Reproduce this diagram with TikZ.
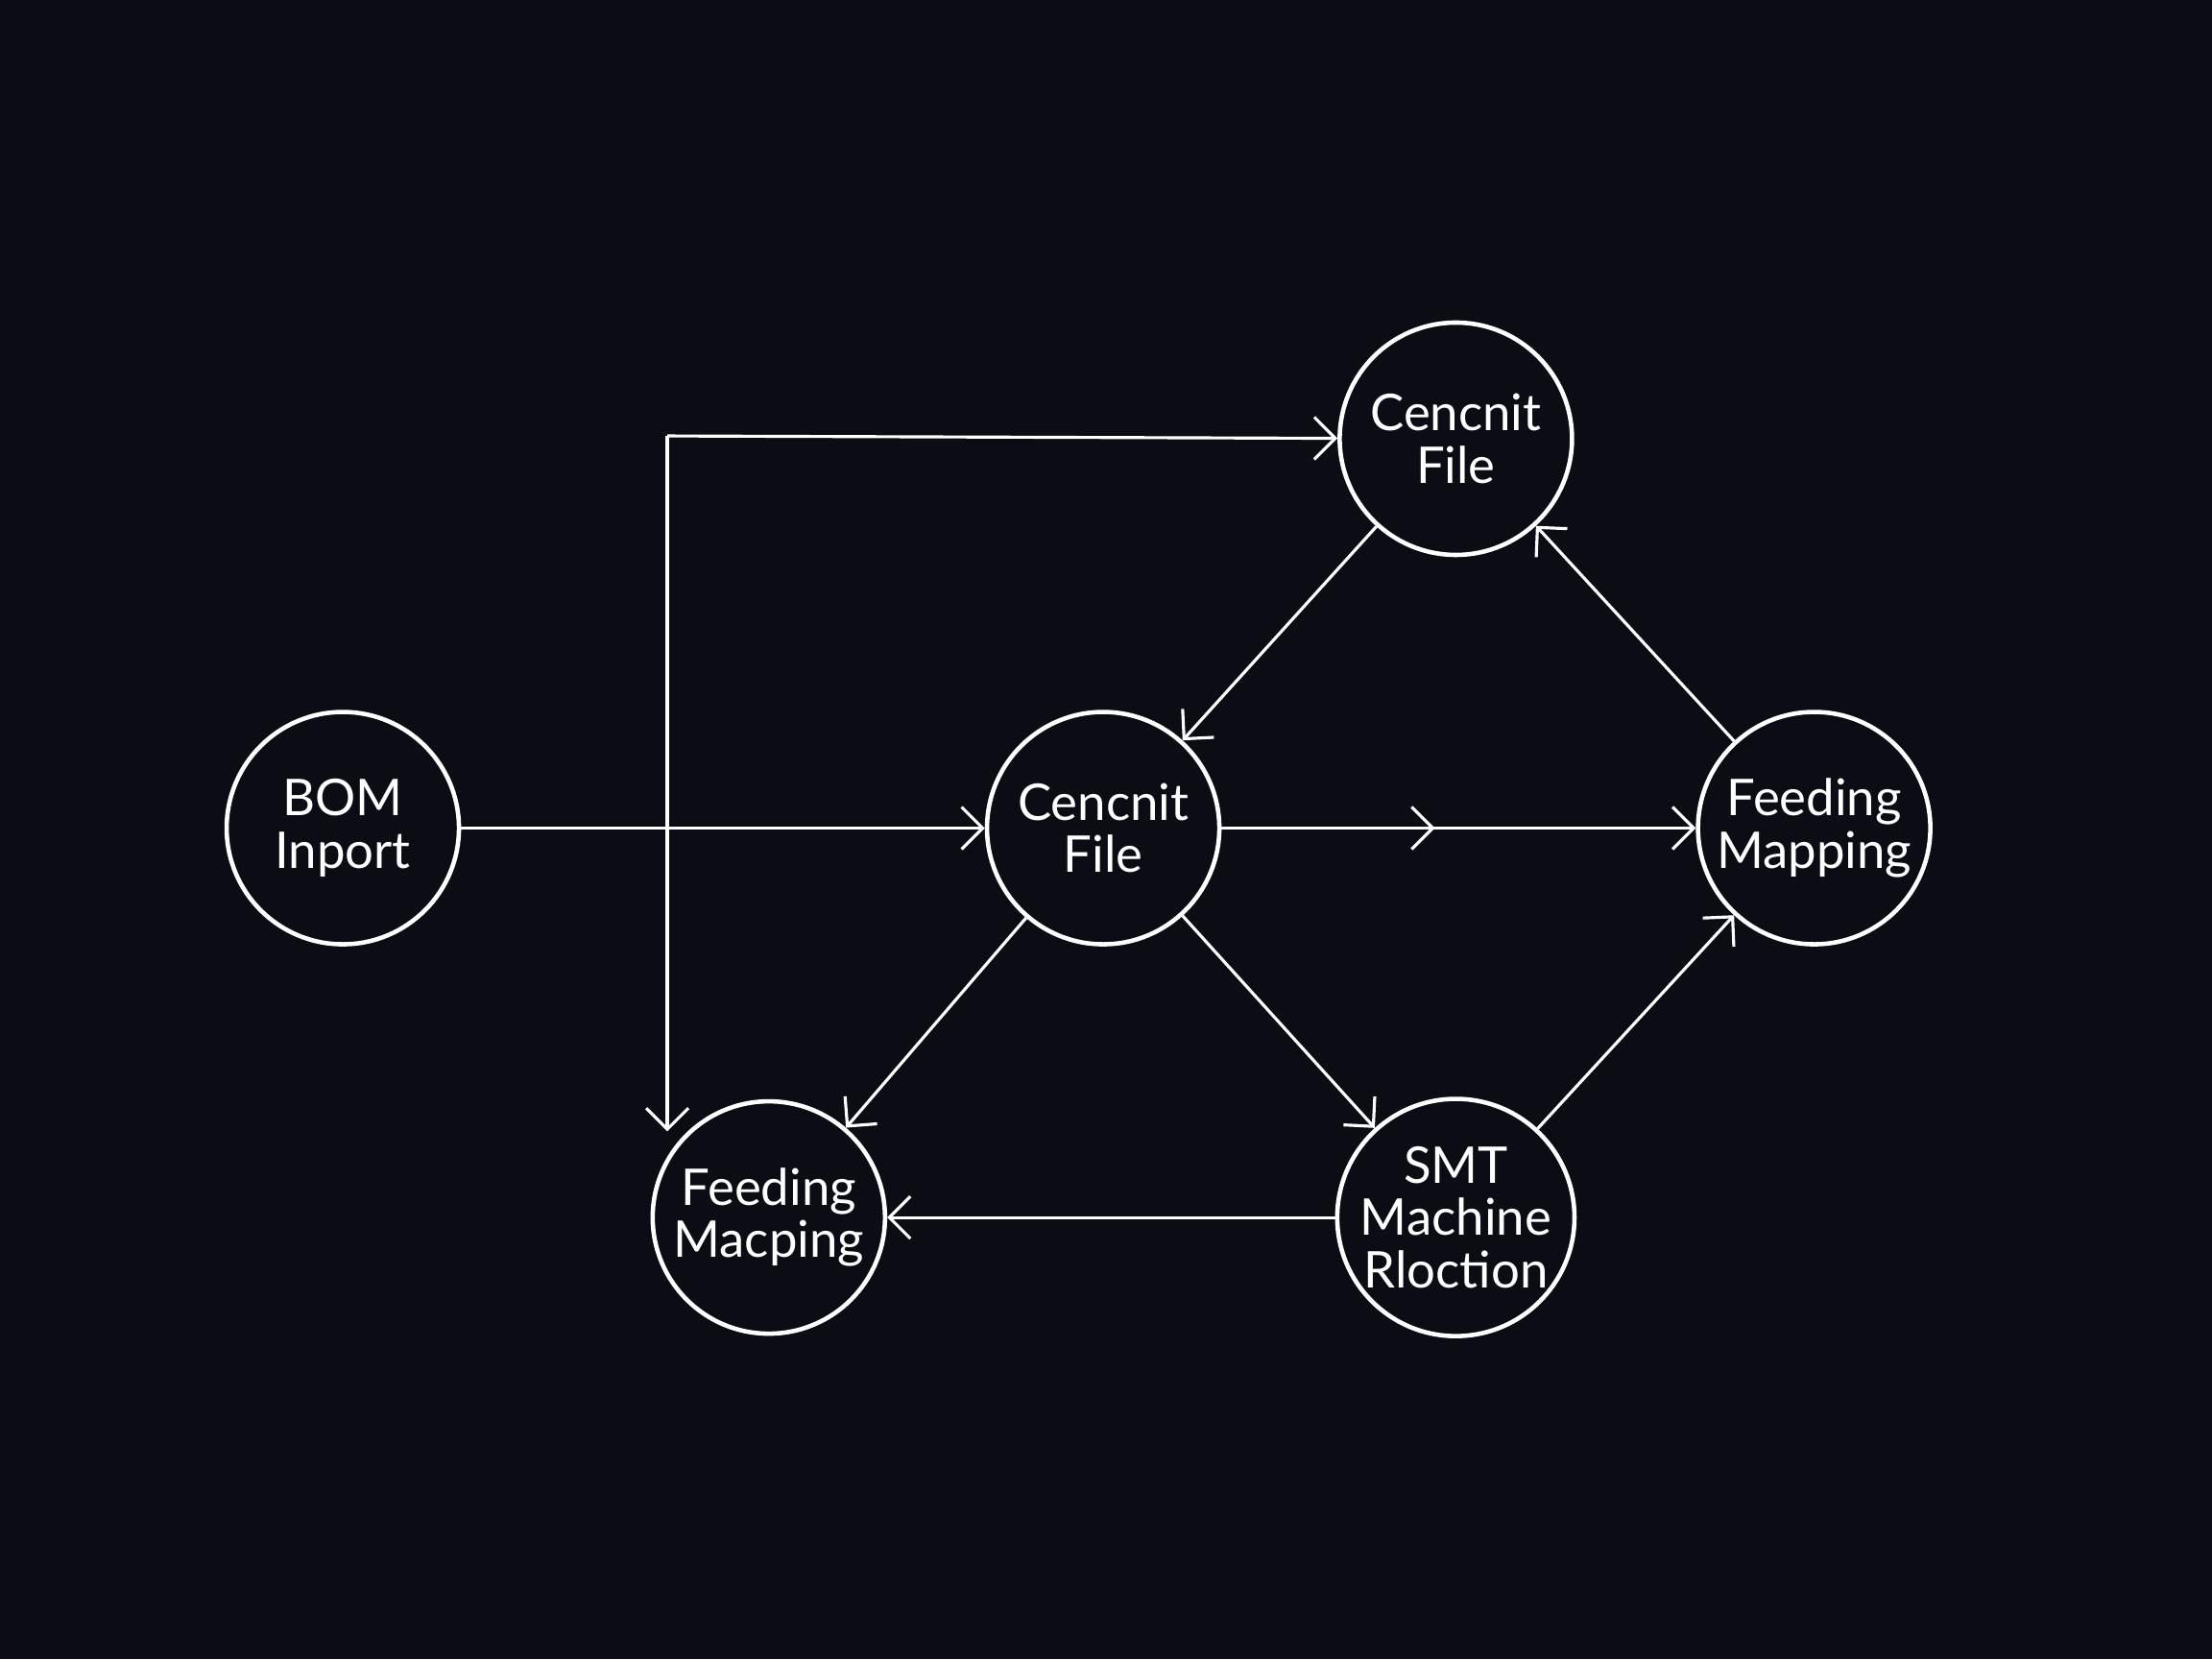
\documentclass[tikz,border=0pt]{standalone}
\usepackage{fontspec}
\setmainfont{Lato}
\usetikzlibrary{arrows.meta,decorations.markings}
\definecolor{bgdark}{HTML}{0A0D14}
\tikzset{
  stage/.style={circle, draw=white, line width=1.3pt, minimum size=2.42cm,
    inner sep=0pt, align=center, text=white, font=\fontsize{15}{15.5}\selectfont},
  flow/.style={draw=white, line width=0.9pt,
    -{Straight Barb[length=2.2mm,width=4.4mm,line width=0.9pt]}},
  midtip/.style={postaction={decorate}, decoration={markings,
    mark=at position 0.45 with {\arrow{Straight Barb[length=2.2mm,width=4.4mm,line width=0.9pt]}}}}
}
\begin{document}
\begin{tikzpicture}[x=0.014694cm, y=-0.014694cm]
  \fill[bgdark] (0,0) rectangle (1568,1176);
  \useasboundingbox (0,0) rectangle (1568,1176);
  % stages
  \node[stage] (bom) at (243,587) {BOM\\Inport};
  \node[stage] (cfile-top) at (1032,311) {Cencnit\\File};
  \node[stage] (cfile) at (782,587) {Cencnit\\File};
  \node[stage] (feed-right) at (1286,587) {Feeding\\Mapping};
  \node[stage] (feed-left) at (545,863) {Feeding\\Macping};
  \node[stage] (smt) at (1032,863) {SMT\\Machine\\Rloction};
  \coordinate (corner) at (473,309);
  \coordinate (drop) at (473,802);
  % connectors
  \draw[flow] (corner) -- (cfile-top);
  \draw[flow] (corner) -- (drop);
  \draw[flow] (bom) -- (cfile);
  \draw[flow] (cfile-top) -- (cfile);
  \draw[flow, midtip] (cfile) -- (feed-right);
  \draw[flow] (feed-right) -- (cfile-top);
  \draw[flow] (cfile) -- (feed-left);
  \draw[flow] (cfile) -- (smt);
  \draw[flow] (smt) -- (feed-right);
  \draw[flow] (smt) -- (feed-left);
\end{tikzpicture}
\end{document}
